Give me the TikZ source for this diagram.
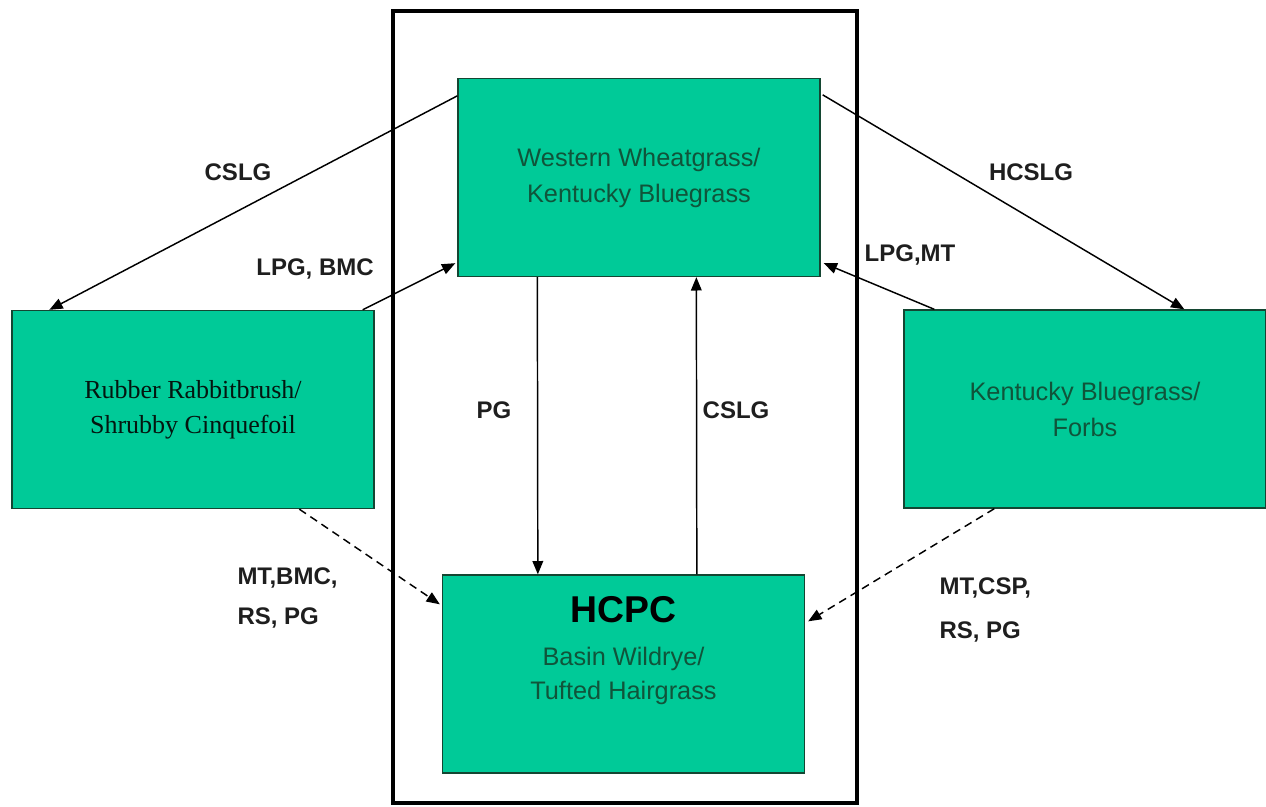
\documentclass[tikz,border=0pt]{standalone}
\usepackage{fontspec}
\newfontfamily\arialfont{Liberation Sans}
\newfontfamily\timesfont{Liberation Serif}
\usetikzlibrary{arrows.meta,calc}

\definecolor{boxgreen}{RGB}{0,202,152}
\definecolor{boxtext}{RGB}{16,84,58}
\definecolor{lbltext}{RGB}{30,30,30}

\tikzset{every picture/.style={line width=0.75pt}}
\tikzset{
  state/.style={draw={rgb,255:red,20;green,70;blue,50}, fill=boxgreen, line width=1pt,
    minimum width=271.5pt, minimum height=148.5pt, inner sep=0pt, align=center,
    text=boxtext, font=\arialfont\fontsize{19}{27}\selectfont},
  lbl/.style={text=lbltext, font=\arialfont\bfseries\fontsize{18}{30}\selectfont, inner sep=0.75pt, align=left},
  trans/.style={line width=1.1pt, -{Triangle[length=10pt,width=8pt]}},
  retro/.style={trans, dashed, dash pattern=on 6pt off 4pt}
}

\begin{document}
\begin{tikzpicture}[x=0.75pt,y=0.75pt,yscale=-1,xscale=1]

\useasboundingbox (0,0) rectangle (1266,806);

% frame round the reference community
\draw [line width=3pt] (393,11) rectangle (857,803);

% community phases
\node [state] (wheat) at (639,177.5) {Western Wheatgrass/\\Kentucky Bluegrass};
\node [state, text=black!75!boxtext, font=\timesfont\fontsize{19.5}{26}\selectfont] (rabbit) at (193,409.5) {Rubber Rabbitbrush/\\Shrubby Cinquefoil};
\node [state] (forbs) at (1085,409) {Kentucky Bluegrass/\\Forbs};
\node [state] (hcpc) at (623.5,674) {};
\node [font=\arialfont\bfseries\fontsize{28}{30}\selectfont, inner sep=0pt] (hcpct) at (623.5,610) {HCPC};
\node [text=boxtext, font=\arialfont\fontsize{19}{26}\selectfont, align=center, inner sep=0pt] (hcpcs) at (623.5,676) {Basin Wildrye/\\Tufted Hairgrass};

% transitions
\draw [trans] ($(wheat.north west)+(0,18)$) -- ($(rabbit.north west)+(38,0)$);
\draw [trans] ($(rabbit.north east)+(-12,0)$) -- ($(wheat.south west)+(-2,-14)$);
\draw [trans] ($(wheat.north east)+(2,17)$) -- ($(forbs.north west)+(281,0)$);
\draw [trans] ($(forbs.north west)+(31,0)$) -- ($(wheat.south east)+(3,-14)$);
\draw [trans] ($(wheat.south west)+(80,0)$) -- ($(hcpc.north west)+(96,0)$);
\draw [trans] ($(hcpc.north west)+(255,0)$) -- ($(wheat.south west)+(239,0)$);

% restoration pathways
\draw [retro] ($(rabbit.south west)+(288,0)$) -- ($(hcpc.north west)+(-2,30)$);
\draw [retro] ($(forbs.south west)+(91,0)$) -- ($(hcpc.north east)+(3,47)$);

% pathway labels
\node [lbl] (cslgl) at (238,172) {CSLG};
\node [lbl] (hcslg) at (1031,172) {HCSLG};
\node [lbl] (lpgbmc) at (315,269) {LPG, BMC};
\node [lbl] (lpgmt) at (910,255) {LPG,MT};
\node [lbl] (pg) at (494,410) {PG};
\node [lbl] (cslgm) at (736,410) {CSLG};
\node [lbl, anchor=west] (leftrs) at (236,598) {MT,BMC,\\RS, PG};
\node [lbl, anchor=west, font=\arialfont\bfseries\fontsize{18}{33}\selectfont] (rightrs) at (938,610) {MT,CSP,\\RS, PG};

\end{tikzpicture}
\end{document}
